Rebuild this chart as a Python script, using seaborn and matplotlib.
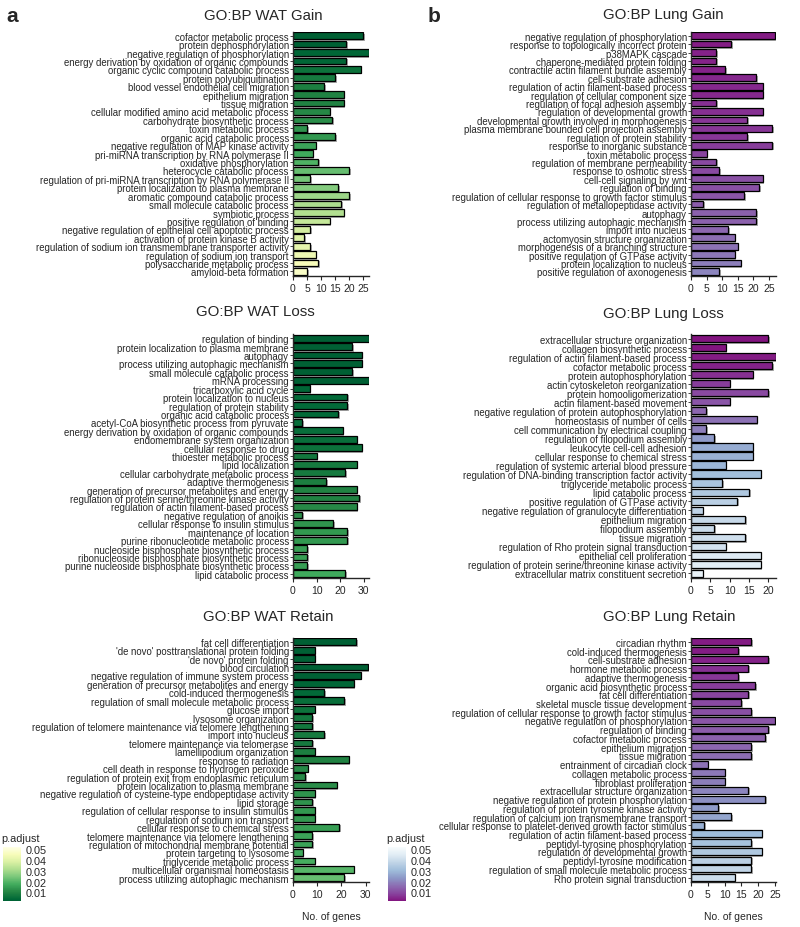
import numpy as np
import pandas as pd
import seaborn as sns
import matplotlib.pyplot as plt
import matplotlib.colors as mcolors
import matplotlib.patheffects as pe

# ---- data ----
wat_gain_terms = ['cofactor metabolic process', 'protein dephosphorylation', 'negative regulation of phosphorylation',
                  'energy derivation by oxidation of organic compounds', 'organic cyclic compound catabolic process',
                  'protein polyubiquitination', 'blood vessel endothelial cell migration', 'epithelium migration',
                  'tissue migration', 'cellular modified amino acid metabolic process', 'carbohydrate biosynthetic process',
                  'toxin metabolic process', 'organic acid catabolic process', 'negative regulation of MAP kinase activity',
                  'pri-miRNA transcription by RNA polymerase II', 'oxidative phosphorylation', 'heterocycle catabolic process',
                  'regulation of pri-miRNA transcription by RNA polymerase II', 'protein localization to plasma membrane',
                  'aromatic compound catabolic process', 'small molecule catabolic process', 'symbiotic process',
                  'positive regulation of binding', 'negative regulation of epithelial cell apoptotic process',
                  'activation of protein kinase B activity', 'regulation of sodium ion transmembrane transporter activity',
                  'regulation of sodium ion transport', 'polysaccharide metabolic process', 'amyloid-beta formation']
wat_gain_count = [25, 19, 27, 19, 24, 15, 11, 18, 18, 13, 14, 5, 15, 8, 7, 9, 20, 6, 16, 20, 17, 18, 13, 6, 4, 6, 8, 9, 5]
wat_gain_padj = [0.002, 0.002, 0.003, 0.003, 0.006, 0.008, 0.009, 0.010, 0.010, 0.011, 0.012, 0.013, 0.014, 0.016,
                 0.017, 0.019, 0.022, 0.024, 0.026, 0.029, 0.031, 0.032, 0.035, 0.037, 0.039, 0.041, 0.043, 0.045, 0.047]

wat_loss_terms = ['regulation of binding', 'protein localization to plasma membrane', 'autophagy',
                  'process utilizing autophagic mechanism', 'small molecule catabolic process', 'mRNA processing',
                  'tricarboxylic acid cycle', 'protein localization to nucleus', 'regulation of protein stability',
                  'organic acid catabolic process', 'acetyl-CoA biosynthetic process from pyruvate',
                  'energy derivation by oxidation of organic compounds', 'endomembrane system organization',
                  'cellular response to drug', 'thioester metabolic process', 'lipid localization',
                  'cellular carbohydrate metabolic process', 'adaptive thermogenesis',
                  'generation of precursor metabolites and energy', 'regulation of protein serine/threonine kinase activity',
                  'regulation of actin filament-based process', 'negative regulation of anoikis',
                  'cellular response to insulin stimulus', 'maintenance of location', 'purine ribonucleotide metabolic process',
                  'nucleoside bisphosphate biosynthetic process', 'ribonucleoside bisphosphate biosynthetic process',
                  'purine nucleoside bisphosphate biosynthetic process', 'lipid catabolic process']
wat_loss_count = [32, 25, 29, 29, 25, 32, 7, 23, 23, 19, 4, 21, 27, 29, 10, 27, 22, 14, 27, 28, 27, 4, 17, 23, 23, 6, 6, 6, 22]
wat_loss_padj = [0.001, 0.001, 0.002, 0.002, 0.002, 0.002, 0.003, 0.004, 0.004, 0.004, 0.005, 0.005, 0.005, 0.006,
                 0.007, 0.008, 0.008, 0.009, 0.010, 0.010, 0.011, 0.012, 0.013, 0.014, 0.014, 0.015, 0.015, 0.015, 0.017]

wat_retain_terms = ['fat cell differentiation', "'de novo' posttranslational protein folding", "'de novo' protein folding",
                    'blood circulation', 'negative regulation of immune system process',
                    'generation of precursor metabolites and energy', 'cold-induced thermogenesis',
                    'regulation of small molecule metabolic process', 'glucose import', 'lysosome organization',
                    'regulation of telomere maintenance via telomere lengthening', 'import into nucleus',
                    'telomere maintenance via telomerase', 'lamellipodium organization', 'response to radiation',
                    'cell death in response to hydrogen peroxide', 'regulation of protein exit from endoplasmic reticulum',
                    'protein localization to plasma membrane', 'negative regulation of cysteine-type endopeptidase activity',
                    'lipid storage', 'regulation of cellular response to insulin stimulus', 'regulation of sodium ion transport',
                    'cellular response to chemical stress', 'telomere maintenance via telomere lengthening',
                    'regulation of mitochondrial membrane potential', 'protein targeting to lysosome',
                    'triglyceride metabolic process', 'multicellular organismal homeostasis',
                    'process utilizing autophagic mechanism']
wat_retain_count = [26, 9, 9, 31, 28, 25, 13, 21, 9, 8, 8, 13, 8, 9, 23, 6, 5, 18, 9, 8, 9, 9, 19, 8, 8, 4, 9, 25, 21]
wat_retain_padj = [0.001, 0.001, 0.001, 0.002, 0.002, 0.003, 0.004, 0.005, 0.006, 0.007, 0.007, 0.008, 0.008, 0.009,
                   0.010, 0.011, 0.011, 0.012, 0.013, 0.013, 0.014, 0.014, 0.015, 0.016, 0.016, 0.017, 0.018, 0.020, 0.022]

lung_gain_terms = ['negative regulation of phosphorylation', 'response to topologically incorrect protein',
                   'p38MAPK cascade', 'chaperone-mediated protein folding', 'contractile actin filament bundle assembly',
                   'cell-substrate adhesion', 'regulation of actin filament-based process',
                   'regulation of cellular component size', 'regulation of focal adhesion assembly',
                   'regulation of developmental growth', 'developmental growth involved in morphogenesis',
                   'plasma membrane bounded cell projection assembly', 'regulation of protein stability',
                   'response to inorganic substance', 'toxin metabolic process', 'regulation of membrane permeability',
                   'response to osmotic stress', 'cell-cell signaling by wnt', 'regulation of binding',
                   'regulation of cellular response to growth factor stimulus', 'regulation of metallopeptidase activity',
                   'autophagy', 'process utilizing autophagic mechanism', 'import into nucleus',
                   'actomyosin structure organization', 'morphogenesis of a branching structure',
                   'positive regulation of GTPase activity', 'protein localization to nucleus',
                   'positive regulation of axonogenesis']
lung_gain_count = [27, 13, 8, 8, 11, 21, 23, 23, 8, 23, 18, 26, 18, 26, 5, 8, 9, 23, 22, 17, 4, 21, 21, 12, 14, 15, 14, 16, 9]
lung_gain_padj = [0.003, 0.003, 0.004, 0.004, 0.004, 0.005, 0.005, 0.005, 0.006, 0.006, 0.007, 0.007, 0.007, 0.008,
                  0.009, 0.010, 0.010, 0.011, 0.011, 0.012, 0.013, 0.014, 0.014, 0.015, 0.016, 0.017, 0.018, 0.019, 0.020]

lung_loss_terms = ['extracellular structure organization', 'collagen biosynthetic process',
                   'regulation of actin filament-based process', 'cofactor metabolic process',
                   'protein autophosphorylation', 'actin cytoskeleton reorganization', 'protein homooligomerization',
                   'actin filament-based movement', 'negative regulation of protein autophosphorylation',
                   'homeostasis of number of cells', 'cell communication by electrical coupling',
                   'regulation of filopodium assembly', 'leukocyte cell-cell adhesion', 'cellular response to chemical stress',
                   'regulation of systemic arterial blood pressure', 'regulation of DNA-binding transcription factor activity',
                   'triglyceride metabolic process', 'lipid catabolic process', 'positive regulation of GTPase activity',
                   'negative regulation of granulocyte differentiation', 'epithelium migration', 'filopodium assembly',
                   'tissue migration', 'regulation of Rho protein signal transduction', 'epithelial cell proliferation',
                   'regulation of protein serine/threonine kinase activity', 'extracellular matrix constituent secretion']
lung_loss_count = [20, 9, 22, 21, 16, 10, 20, 10, 4, 17, 4, 6, 16, 16, 9, 18, 8, 15, 12, 3, 14, 6, 14, 9, 18, 18, 3]
lung_loss_padj = [0.001, 0.002, 0.003, 0.004, 0.006, 0.008, 0.010, 0.012, 0.015, 0.017, 0.019, 0.024, 0.027, 0.028,
                  0.029, 0.031, 0.033, 0.034, 0.036, 0.037, 0.039, 0.040, 0.041, 0.042, 0.044, 0.045, 0.047]

lung_retain_terms = ['circadian rhythm', 'cold-induced thermogenesis', 'cell-substrate adhesion',
                     'hormone metabolic process', 'adaptive thermogenesis', 'organic acid biosynthetic process',
                     'fat cell differentiation', 'skeletal muscle tissue development',
                     'regulation of cellular response to growth factor stimulus', 'negative regulation of phosphorylation',
                     'regulation of binding', 'cofactor metabolic process', 'epithelium migration', 'tissue migration',
                     'entrainment of circadian clock', 'collagen metabolic process', 'fibroblast proliferation',
                     'extracellular structure organization', 'negative regulation of protein phosphorylation',
                     'regulation of protein tyrosine kinase activity', 'regulation of calcium ion transmembrane transport',
                     'cellular response to platelet-derived growth factor stimulus',
                     'regulation of actin filament-based process', 'peptidyl-tyrosine phosphorylation',
                     'regulation of developmental growth', 'peptidyl-tyrosine modification',
                     'regulation of small molecule metabolic process', 'Rho protein signal transduction']
lung_retain_count = [18, 14, 23, 17, 14, 19, 17, 15, 18, 25, 23, 22, 18, 18, 5, 10, 10, 17, 22, 8, 12, 4, 21, 18, 21, 18, 18, 13]
lung_retain_padj = [0.003, 0.003, 0.004, 0.006, 0.007, 0.008, 0.009, 0.010, 0.011, 0.012, 0.013, 0.014, 0.015, 0.016,
                    0.017, 0.018, 0.019, 0.020, 0.022, 0.024, 0.026, 0.028, 0.030, 0.032, 0.034, 0.036, 0.038, 0.040]

padj_ticks = [0.01, 0.02, 0.03, 0.04, 0.05]

# ---- style ----
sns.set_style('ticks')
plt.rcParams['font.family'] = ['Liberation Sans', 'DejaVu Sans']

green_cmap = mcolors.ListedColormap(plt.get_cmap('YlGn_r')(np.linspace(0.1, 1.0, 256)))
purple_cmap = mcolors.ListedColormap(plt.get_cmap('BuPu_r')(np.linspace(0.14, 1.0, 256)))
norm = mcolors.Normalize(vmin=0.002, vmax=0.052)

W, H = 800, 928
fig = plt.figure(figsize=(W / 100, H / 100), dpi=100)


def box(left, top, right, bottom):
    return [left / W, 1 - bottom / H, (right - left) / W, (bottom - top) / H]


def draw_panel(rect, terms, counts, padj, cmap, xmax, xticks, title, title_x, title_y, xlabel=False):
    ax = fig.add_axes(rect)
    df = pd.DataFrame({'term': terms, 'count': counts, 'padj': padj})
    pal = {t: cmap(norm(p)) for t, p in zip(df.term, df.padj)}
    sns.barplot(data=df, x='count', y='term', hue='term', palette=pal, legend=False,
                width=0.8, edgecolor='black', linewidth=0.9, saturation=1, ax=ax)
    for bar in ax.patches:
        bar.set_path_effects([pe.SimplePatchShadow(offset=(1.2, -1.2), shadow_rgbFace='0.45', alpha=0.6),
                              pe.Normal()])
    ax.set_xlim(0, xmax)
    ax.set_ylim(len(terms) - 0.5, -0.5)
    ax.set_xticks(xticks)
    ax.tick_params(axis='y', labelsize=6.9, length=2, width=0.6, pad=1)
    ax.tick_params(axis='x', labelsize=7.5, length=3, width=0.8, pad=2)
    ax.set_ylabel('')
    ax.set_xlabel('No. of genes' if xlabel else '', fontsize=7.5, labelpad=9)
    sns.despine(ax=ax)
    for s in ['left', 'bottom']:
        ax.spines[s].set_linewidth(1.0)
    fig.text(title_x / W, 1 - title_y / H, title, fontsize=10.8, ha='center', va='center')
    return ax


L = (293, 369.3)
R = (691, 776)
rows = [(32.5, 276.7), (335, 579), (638.5, 883)]

draw_panel(box(L[0], rows[0][0], L[1], rows[0][1]), wat_gain_terms, wat_gain_count, wat_gain_padj,
           green_cmap, 27.1, [0, 5, 10, 15, 20, 25], 'GO:BP WAT Gain', 263, 15.5)
draw_panel(box(L[0], rows[1][0], L[1], rows[1][1]), wat_loss_terms, wat_loss_count, wat_loss_padj,
           green_cmap, 32.3, [0, 10, 20, 30], 'GO:BP WAT Loss', 255, 312.5)
draw_panel(box(L[0], rows[2][0], L[1], rows[2][1]), wat_retain_terms, wat_retain_count, wat_retain_padj,
           green_cmap, 31.5, [0, 10, 20, 30], 'GO:BP WAT Retain', 268, 617, xlabel=True)

draw_panel(box(R[0], rows[0][0], R[1], rows[0][1]), lung_gain_terms, lung_gain_count, lung_gain_padj,
           purple_cmap, 27.3, [0, 5, 10, 15, 20, 25], 'GO:BP Lung Gain', 663, 15.5)
draw_panel(box(R[0], rows[1][0], R[1], rows[1][1]), lung_loss_terms, lung_loss_count, lung_loss_padj,
           purple_cmap, 22, [0, 5, 10, 15, 20], 'GO:BP Lung Loss', 663, 314)
draw_panel(box(R[0], rows[2][0], R[1], rows[2][1]), lung_retain_terms, lung_retain_count, lung_retain_padj,
           purple_cmap, 25.3, [0, 5, 10, 15, 20, 25], 'GO:BP Lung Retain', 669, 617, xlabel=True)

# panel letters
fig.text(6 / W, 1 - 16 / H, 'a', fontsize=15, fontweight='bold', ha='left', va='center')
fig.text(428 / W, 1 - 16 / H, 'b', fontsize=15, fontweight='bold', ha='left', va='center')

# colorbars
for x0, cmap in [(3, green_cmap), (388, purple_cmap)]:
    cax = fig.add_axes(box(x0, 848, x0 + 18, 902))
    sm = plt.cm.ScalarMappable(norm=norm, cmap=cmap)
    cb = fig.colorbar(sm, cax=cax, ticks=padj_ticks)
    cb.outline.set_visible(False)
    cb.ax.tick_params(labelsize=7.8, length=3, width=0.6, color='white', direction='in', pad=3)
    cb.ax.set_yticklabels([f'{t:.2f}' for t in padj_ticks])
    fig.text((x0 - 2) / W, 1 - 839 / H, 'p.adjust', fontsize=7.8, ha='left', va='center')

fig.savefig('out.png', dpi=100)
